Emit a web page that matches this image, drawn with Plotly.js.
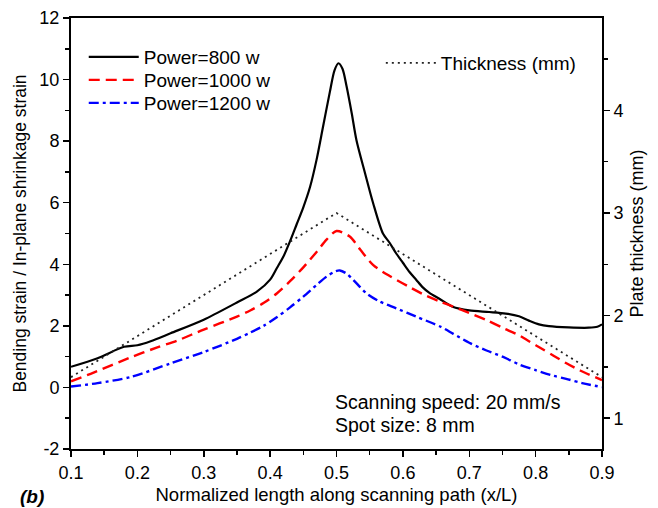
<!DOCTYPE html>
<html>
<head>
<meta charset="utf-8">
<script src="https://cdn.plot.ly/plotly-3.0.1.min.js"></script>
<style>html,body{margin:0;padding:0;background:#fff;}#chart{width:658px;height:508px;}</style>
</head>
<body>
<div id="chart"></div>
<script>
// ---- data ----
const x800 = [0.10,0.14,0.18,0.20,0.22,0.25,0.30,0.35,0.38,0.40,0.41,0.42,0.43,0.44,0.45,0.46,0.47,0.48,0.49,0.497,0.503,0.509,0.515,0.523,0.530,0.543,0.555,0.57,0.58,0.59,0.60,0.61,0.62,0.63,0.64,0.655,0.675,0.70,0.73,0.755,0.775,0.79,0.805,0.82,0.85,0.88,0.893,0.90];
const y800 = [0.67,0.95,1.32,1.37,1.50,1.76,2.20,2.76,3.11,3.50,3.87,4.25,4.75,5.30,5.85,6.50,7.40,8.50,9.60,10.30,10.53,10.35,9.80,8.90,8.04,6.96,6.00,5.00,4.70,4.35,4.05,3.75,3.50,3.25,3.07,2.88,2.62,2.50,2.45,2.40,2.31,2.17,2.05,1.99,1.95,1.94,1.97,2.05];

const x1000 = [0.10,0.134,0.19,0.23,0.26,0.30,0.35,0.37,0.39,0.41,0.43,0.45,0.47,0.485,0.50,0.52,0.536,0.555,0.58,0.61,0.636,0.656,0.676,0.70,0.726,0.75,0.776,0.79,0.81,0.827,0.845,0.867,0.90];
const y1000 = [0.20,0.48,0.98,1.30,1.52,1.88,2.30,2.50,2.74,3.05,3.45,3.90,4.40,4.80,5.08,4.90,4.47,3.98,3.62,3.26,2.97,2.79,2.62,2.42,2.19,1.94,1.68,1.50,1.25,1.03,0.80,0.55,0.24];

const x1200 = [0.10,0.14,0.19,0.25,0.30,0.35,0.37,0.39,0.41,0.43,0.45,0.47,0.485,0.497,0.505,0.515,0.525,0.545,0.565,0.59,0.62,0.656,0.676,0.70,0.726,0.75,0.776,0.80,0.827,0.846,0.87,0.90];
const y1200 = [0.03,0.14,0.34,0.78,1.15,1.58,1.78,2.00,2.28,2.60,2.95,3.33,3.60,3.76,3.80,3.70,3.50,3.06,2.79,2.57,2.30,1.98,1.74,1.45,1.20,1.00,0.74,0.56,0.38,0.28,0.14,0.01];

const xThick = [0.1, 0.5, 0.9];
const yThick = [1.4, 3.0, 1.4];

const names = ["Power=800 w", "Power=1000 w", "Power=1200 w", "Thickness (mm)"];
const xTickVals = [0.1,0.2,0.3,0.4,0.5,0.6,0.7,0.8,0.9];
const yTickVals = [-2,0,2,4,6,8,10,12];
const y2TickVals = [1,2,3,4];

const FONT = "Liberation Sans, Arial, sans-serif";

const traces = [
  {x:x800, y:y800, name:names[0], mode:'lines', line:{color:'#000', width:2.2, shape:'spline', smoothing:0.8}, legend:'legend'},
  {x:x1000, y:y1000, name:names[1], mode:'lines', line:{color:'#ff0000', width:2.4, dash:'11px,6px', shape:'spline', smoothing:0.8}, legend:'legend3'},
  {x:x1200, y:y1200, name:names[2], mode:'lines', line:{color:'#0000ff', width:2.4, dash:'10px,4px,3px,4px', shape:'spline', smoothing:0.8}, legend:'legend4'},
  {x:xThick, y:yThick, name:names[3], mode:'lines', yaxis:'y2', line:{color:'#222', width:1.8, dash:'2px,4px'}, legend:'legend2'}
];

const axisCommon = {
  showgrid:false, zeroline:false, showline:true, linecolor:'#000', linewidth:2,
  ticks:'outside', ticklen:6, tickwidth:1.5, tickcolor:'#000',
  tickfont:{family:FONT, size:18, color:'#000'}
};

const legFont = {family:FONT, size:19, color:'#000'};
function leg(x, y, xa){
  return {x:x, y:y, xanchor:xa, yanchor:'middle', bgcolor:'rgba(0,0,0,0)', borderwidth:0, font:legFont, itemwidth:50};
}

const layout = {
  width:658, height:508,
  margin:{l:71, r:56, t:18, b:59},
  paper_bgcolor:'#fff', plot_bgcolor:'#fff',
  font:{family:FONT, color:'#000'},
  xaxis: Object.assign({}, axisCommon, {
    range:[0.1,0.9], tickvals:xTickVals, ticktext:xTickVals.map(v=>v.toFixed(1)), mirror:true,
    minor:{dtick:0.05, ticks:'outside', ticklen:4, tickwidth:1.5, tickcolor:'#000', showgrid:false},
    title:{text:'Normalized length along scanning path (x/L)', font:{family:FONT, size:18.5, color:'#000'}, standoff:6}
  }),
  yaxis: Object.assign({}, axisCommon, {
    range:[-2,12], tickvals:yTickVals, ticktext:yTickVals.map(v=>String(v)),
    minor:{dtick:1, ticks:'outside', ticklen:4, tickwidth:1.5, tickcolor:'#000', showgrid:false},
    title:{text:'Bending strain / In-plane shrinkage strain', font:{family:FONT, size:17.5, color:'#000'}, standoff:8}
  }),
  yaxis2: Object.assign({}, axisCommon, {
    overlaying:'y', side:'right', range:[0.70,4.90], tickvals:y2TickVals, ticktext:y2TickVals.map(v=>String(v)),
    minor:{dtick:0.5, ticks:'outside', ticklen:4, tickwidth:1.5, tickcolor:'#000', showgrid:false},
    title:{text:'Plate thickness (mm)', font:{family:FONT, size:18, color:'#000'}, standoff:8}
  }),
  legend: leg(0.024, 0.9095, 'left'),
  legend3: leg(0.024, 0.8561, 'left'),
  legend4: leg(0.024, 0.8028, 'left'),
  legend2: leg(0.962, 0.8956, 'right'),
  annotations:[
    {xref:'x', yref:'y', x:0.494, y:-0.46, xanchor:'left', yanchor:'middle', showarrow:false, align:'left',
     text:'Scanning speed: 20 mm/s', font:{family:FONT, size:19.5, color:'#000'}},
    {xref:'x', yref:'y', x:0.494, y:-1.22, xanchor:'left', yanchor:'middle', showarrow:false, align:'left',
     text:'Spot size: 8 mm', font:{family:FONT, size:19.5, color:'#000'}},
    {xref:'paper', yref:'paper', x:-0.1, y:-0.11, xanchor:'left', yanchor:'middle', showarrow:false,
     text:'<b><i>(b)</i></b>', font:{family:FONT, size:19, color:'#000'}}
  ],
  showlegend:true
};

Plotly.newPlot('chart', traces, layout, {displayModeBar:false, staticPlot:true});
</script>
</body>
</html>
